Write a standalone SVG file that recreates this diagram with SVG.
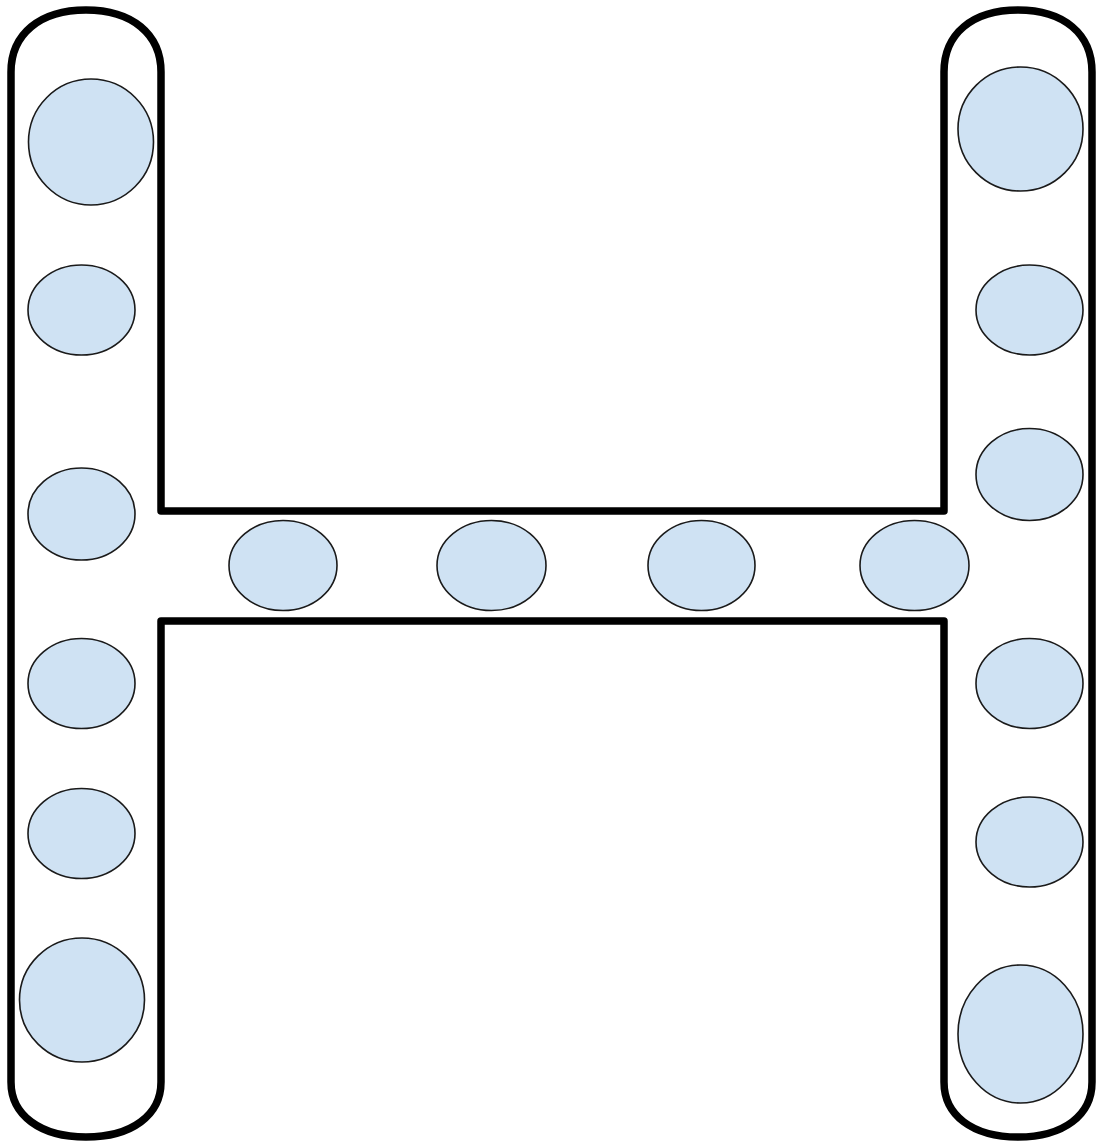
<svg xmlns="http://www.w3.org/2000/svg" width="1097" height="1147" viewBox="0 0 1097 1147">
<style>
.frame{fill:none;stroke:#000;stroke-width:7.5;stroke-linejoin:round}
.n{fill:#cfe2f3;stroke:#1a1a1a;stroke-width:1.6}
</style>
<rect width="1097" height="1147" fill="#fff"/>
<g id="outline">
<path class="frame" d="M 11 72 C 11 34 40 10 86 10 C 132 10 161 34 161 72 L 161 511 L 944 511 L 944 72 C 944 34 972 10 1018 10 C 1064 10 1092 34 1092 72 L 1092 1082 C 1092 1115 1064 1137 1018 1137 C 972 1137 944 1115 944 1082 L 944 621 L 161 621 L 161 1082 C 161 1115 132 1137 86 1137 C 40 1137 11 1115 11 1082 Z"/>
</g>
<g id="connectors"></g>
<g id="left-1"><ellipse class="n" cx="91" cy="142" rx="62.5" ry="63"/></g>
<g id="left-2"><ellipse class="n" cx="81.5" cy="310" rx="53.5" ry="45"/></g>
<g id="left-3"><ellipse class="n" cx="81.5" cy="514" rx="53.5" ry="46"/></g>
<g id="left-4"><ellipse class="n" cx="81.5" cy="683.5" rx="53.5" ry="45"/></g>
<g id="left-5"><ellipse class="n" cx="81.5" cy="833.5" rx="53.5" ry="45"/></g>
<g id="left-6"><ellipse class="n" cx="82" cy="1000" rx="62.5" ry="62"/></g>
<g id="right-1"><ellipse class="n" cx="1020.5" cy="129" rx="62.5" ry="62"/></g>
<g id="right-2"><ellipse class="n" cx="1029.5" cy="310" rx="53.5" ry="45"/></g>
<g id="right-3"><ellipse class="n" cx="1029.5" cy="474.5" rx="53.5" ry="46"/></g>
<g id="right-4"><ellipse class="n" cx="1029.5" cy="683.5" rx="53.5" ry="45"/></g>
<g id="right-5"><ellipse class="n" cx="1029.5" cy="842" rx="53.5" ry="45"/></g>
<g id="right-6"><ellipse class="n" cx="1020.5" cy="1034" rx="62.5" ry="69"/></g>
<g id="mid-1"><ellipse class="n" cx="283" cy="565.5" rx="54" ry="45"/></g>
<g id="mid-2"><ellipse class="n" cx="491.5" cy="565.5" rx="54.5" ry="45"/></g>
<g id="mid-3"><ellipse class="n" cx="701.5" cy="565.5" rx="53.5" ry="45"/></g>
<g id="mid-4"><ellipse class="n" cx="914.5" cy="565.5" rx="54.5" ry="45"/></g>
</svg>
